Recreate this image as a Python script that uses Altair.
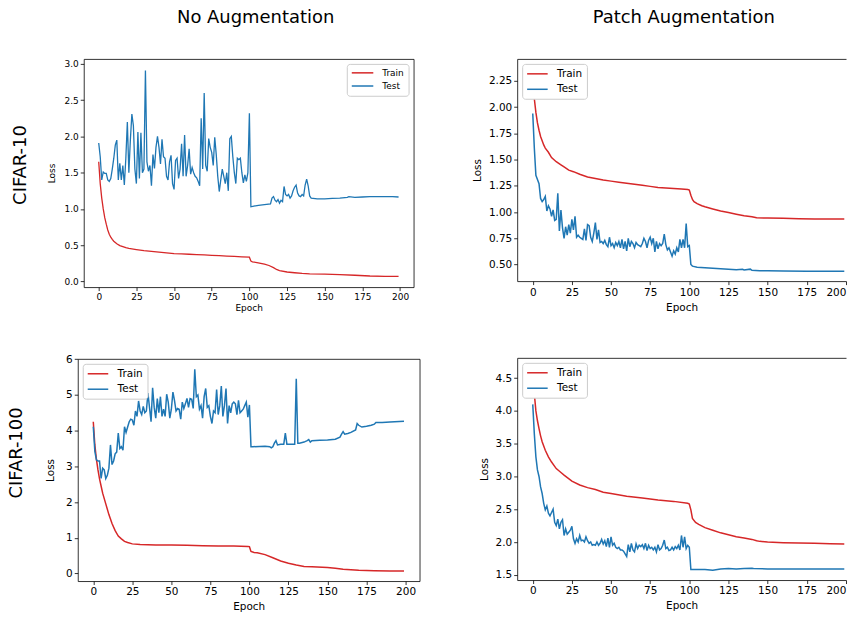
import altair as alt
import pandas as pd

RED = "#d62728"
BLUE = "#1f77b4"
FONT = "DejaVu Sans"

# ---------------- CIFAR-10, no augmentation ----------------
c10_na_train_e = [0, 1, 2, 3, 4, 5, 6, 7, 8, 9, 10, 12, 14, 16, 18, 20, 25, 30, 35, 40, 45, 50, 55, 60, 65, 70, 75, 80, 85, 90, 95, 100,
                  101, 102, 105, 110, 113, 116, 118, 120, 125, 130, 135, 140, 150, 160, 170, 180, 190, 199]
c10_na_train_v = [1.65, 1.35, 1.15, 1.00, 0.88, 0.79, 0.71, 0.65, 0.61, 0.58, 0.555, 0.52, 0.495, 0.48, 0.465, 0.455, 0.44, 0.425, 0.415, 0.405, 0.395, 0.385, 0.38, 0.375, 0.37, 0.365, 0.36, 0.355, 0.35, 0.345, 0.34, 0.335,
                  0.28, 0.27, 0.26, 0.24, 0.22, 0.19, 0.165, 0.15, 0.13, 0.12, 0.11, 0.105, 0.10, 0.095, 0.085, 0.075, 0.07, 0.07]
c10_na_test_e = list(range(0, 102)) + [103, 106, 110, 114] + list(range(115, 142)) + [145, 150, 155, 160, 165, 166, 170, 175, 180, 185, 190, 195, 199]
c10_na_test_v = [1.91, 1.72, 1.40, 1.51, 1.49, 1.49, 1.40, 1.38, 1.42, 1.55, 1.70, 1.88, 1.95, 1.40, 1.63, 1.40, 1.60, 1.33, 1.70, 2.20,
                 1.50, 1.95, 2.31, 2.15, 1.55, 1.35, 2.06, 1.42, 2.05, 1.50, 1.55, 2.91, 1.65, 1.52, 1.60, 1.32, 1.75, 1.56, 1.85, 2.00,
                 1.85, 1.62, 1.96, 1.72, 1.70, 1.45, 1.40, 1.65, 1.74, 1.35, 1.27, 1.67, 1.70, 1.42, 1.55, 1.90, 1.45, 2.02, 1.45, 1.60,
                 1.83, 1.48, 1.57, 1.50, 1.45, 1.43, 1.38, 1.32, 2.25, 1.55, 2.60, 1.60, 1.52, 1.97, 1.85, 1.78, 1.60, 1.99, 1.75, 1.45,
                 1.24, 1.40, 1.55, 1.45, 1.35, 1.50, 1.25, 1.97, 2.00, 1.72, 1.50, 1.35, 1.70, 1.68, 1.70, 1.50, 1.36, 1.47, 1.38, 1.50,
                 2.32, 1.03, 1.04, 1.05, 1.06, 1.07,
                 1.15, 1.17, 1.12, 1.10, 1.13, 1.08, 1.12, 1.10, 1.31, 1.20, 1.18, 1.20, 1.15, 1.18, 1.25, 1.30, 1.33, 1.22, 1.18, 1.17,
                 1.20, 1.18, 1.33, 1.41, 1.32, 1.18, 1.15,
                 1.14, 1.14, 1.145, 1.15, 1.16, 1.17, 1.16, 1.165, 1.17, 1.17, 1.17, 1.17, 1.165]

# ---------------- CIFAR-10, patch augmentation ----------------
c10_pa_train_e = [0, 1, 2, 3, 4, 5, 6, 7, 8, 10, 12, 15, 18, 20, 23, 26, 30, 35, 40, 45, 50, 55, 60, 65, 70, 75, 80, 85, 90, 95, 99, 100,
                  101, 102, 103, 105, 108, 110, 115, 120, 125, 130, 135, 140, 143, 150, 160, 170, 180, 190, 199]
c10_pa_train_v = [2.37, 2.08, 1.95, 1.85, 1.78, 1.72, 1.68, 1.64, 1.61, 1.57, 1.52, 1.48, 1.45, 1.43, 1.40, 1.385, 1.36, 1.335, 1.32, 1.305, 1.295, 1.285, 1.275, 1.265, 1.255, 1.245, 1.235, 1.23, 1.225, 1.22, 1.215, 1.21,
                  1.16, 1.12, 1.10, 1.08, 1.06, 1.05, 1.03, 1.01, 0.995, 0.98, 0.965, 0.955, 0.945, 0.943, 0.94, 0.937, 0.935, 0.935, 0.935]
c10_pa_test_e = list(range(0, 102)) + [102, 105, 110, 115, 120, 125, 130, 134, 135, 139, 140, 145, 150, 160, 175, 199]
c10_pa_test_v = [1.94, 1.61, 1.35, 1.31, 1.27, 1.13, 1.10, 1.12, 1.15, 1.01, 1.06, 1.03, 0.96, 1.02, 0.92, 0.93, 1.18, 0.82, 1.02, 0.85,
                 0.75, 0.86, 0.78, 0.88, 0.80, 0.93, 0.83, 0.96, 0.76, 0.78, 0.76, 0.75, 0.74, 0.84, 0.73, 0.88, 0.87, 0.76, 0.72, 0.80,
                 0.90, 0.74, 0.83, 0.71, 0.72, 0.70, 0.73, 0.69, 0.67, 0.76, 0.68, 0.70, 0.66, 0.71, 0.68, 0.72, 0.66, 0.74, 0.65, 0.72,
                 0.63, 0.75, 0.67, 0.72, 0.70, 0.66, 0.71, 0.69, 0.68, 0.67, 0.70, 0.75, 0.72, 0.66, 0.73, 0.76, 0.70, 0.75, 0.62, 0.72,
                 0.65, 0.70, 0.68, 0.70, 0.79, 0.69, 0.64, 0.66, 0.62, 0.58, 0.63, 0.60, 0.66, 0.62, 0.74, 0.66, 0.74, 0.66, 0.89, 0.67,
                 0.68, 0.50,
                 0.485, 0.475, 0.47, 0.465, 0.46, 0.455, 0.45, 0.455, 0.448, 0.456, 0.445, 0.44, 0.44, 0.438, 0.435, 0.435]

# ---------------- CIFAR-100, no augmentation ----------------
c100_na_train_e = [0, 1, 2, 3, 4, 5, 6, 8, 10, 12, 14, 16, 18, 20, 22, 25, 30, 40, 50, 60, 70, 80, 90, 99, 100,
                   101, 103, 105, 110, 115, 120, 125, 130, 135, 140, 150, 155, 160, 170, 180, 190, 199]
c100_na_train_v = [4.25, 3.60, 3.20, 2.90, 2.65, 2.45, 2.25, 1.95, 1.65, 1.40, 1.20, 1.05, 0.97, 0.90, 0.87, 0.83, 0.81, 0.80, 0.80, 0.79, 0.78, 0.77, 0.77, 0.76, 0.75,
                   0.62, 0.59, 0.58, 0.53, 0.44, 0.35, 0.29, 0.24, 0.20, 0.19, 0.17, 0.15, 0.12, 0.09, 0.08, 0.07, 0.07]
c100_na_test_e = list(range(0, 103)) + [110, 113, 114, 115, 116, 117, 118, 120, 122, 123, 124, 126, 129, 130, 131, 132, 135, 137, 138, 139, 140,
                                        145, 150, 155, 158, 159, 160, 161, 163, 165, 168, 169, 170, 172, 175, 178, 180, 181, 185, 190, 199]
c100_na_test_v = [4.11, 3.42, 3.18, 3.15, 3.15, 2.66, 2.95, 2.90, 2.66, 2.75, 2.95, 3.60, 3.05, 3.15, 3.35, 3.40, 3.93, 3.50, 3.55, 3.45,
                  4.11, 3.95, 4.10, 4.25, 4.32, 4.30, 4.15, 4.55, 4.40, 4.83, 4.55, 4.45, 4.68, 4.50, 4.55, 5.05, 4.65, 4.25, 5.20, 4.65,
                  4.35, 4.90, 4.50, 4.95, 4.40, 4.60, 4.40, 5.02, 4.80, 4.35, 4.60, 5.08, 4.85, 4.55, 4.62, 4.60, 4.32, 4.80, 4.62, 4.75,
                  4.90, 4.65, 4.90, 4.88, 4.62, 5.72, 4.95, 5.00, 4.60, 4.70, 4.35, 4.95, 5.18, 4.65, 4.70, 4.40, 4.20, 4.55, 4.50, 5.15,
                  4.45, 4.70, 5.25, 4.40, 4.70, 5.18, 4.20, 4.70, 4.50, 4.75, 4.80, 4.75, 4.45, 4.85, 4.50, 4.55, 4.60, 4.70, 4.80, 4.38,
                  4.72, 3.55, 3.55,
                  3.56, 3.55, 3.52, 3.55, 3.65, 3.72, 3.60, 3.62, 3.62, 3.93, 3.62, 3.62, 3.62, 5.45, 3.65, 3.65, 3.68, 3.72, 3.75, 3.68, 3.72,
                  3.73, 3.74, 3.76, 3.82, 3.90, 3.97, 3.90, 3.92, 3.95, 4.02, 4.20, 4.15, 4.10, 4.12, 4.15, 4.18, 4.23, 4.23, 4.24, 4.26]

# ---------------- CIFAR-100, patch augmentation ----------------
c100_pa_train_e = [0, 1, 2, 3, 4, 5, 6, 8, 10, 12, 15, 18, 20, 25, 30, 35, 40, 45, 50, 60, 70, 80, 90, 99, 100,
                   101, 102, 104, 106, 110, 115, 120, 125, 130, 135, 140, 143, 145, 150, 160, 170, 180, 190, 199]
c100_pa_train_v = [4.66, 4.26, 4.00, 3.85, 3.73, 3.62, 3.53, 3.40, 3.30, 3.22, 3.12, 3.06, 3.02, 2.93, 2.87, 2.83, 2.80, 2.76, 2.74, 2.70, 2.67, 2.64, 2.62, 2.59, 2.58,
                   2.49, 2.36, 2.30, 2.27, 2.22, 2.18, 2.14, 2.11, 2.08, 2.06, 2.04, 2.02, 2.01, 2.00, 1.99, 1.985, 1.98, 1.975, 1.97]
c100_pa_test_e = list(range(0, 103)) + [105, 110, 115, 120, 125, 130, 135, 140, 141, 150, 160, 175, 199]
c100_pa_test_v = [4.10, 3.65, 3.30, 3.10, 3.00, 2.84, 2.74, 2.59, 2.49, 2.55, 2.44, 2.40, 2.45, 2.50, 2.30, 2.25, 2.35, 2.20, 2.30, 2.34,
                  2.10, 2.20, 2.12, 2.15, 2.18, 2.24, 2.05, 1.98, 2.05, 2.00, 2.10, 2.02, 2.03, 2.00, 2.08, 2.02, 1.98, 2.00, 1.95, 1.96,
                  1.95, 2.00, 1.95, 1.98, 2.04, 1.97, 2.02, 1.93, 2.06, 1.92, 2.08, 1.95, 1.98, 1.92, 1.90, 1.92, 1.88, 1.88, 1.86, 1.82,
                  1.78, 1.96, 1.85, 1.98, 1.88, 1.85, 1.97, 1.90, 1.95, 1.93, 1.96, 1.90, 1.98, 1.87, 1.95, 1.90, 1.92, 1.88, 1.92, 1.85,
                  1.96, 1.88, 1.90, 1.95, 2.03, 1.90, 1.92, 1.87, 1.88, 1.92, 1.88, 1.93, 1.90, 1.95, 1.88, 2.10, 1.92, 2.08, 1.90, 1.95,
                  1.92, 1.58, 1.58,
                  1.58, 1.58, 1.57, 1.59, 1.595, 1.59, 1.595, 1.60, 1.595, 1.59, 1.59, 1.59, 1.59]

X_TICKS = [0, 25, 50, 75, 100, 125, 150, 175, 200]


def frame_axis(orient):
    return alt.Axis(orient=orient, labels=False, ticks=False, title=None, grid=False,
                    domain=True, domainColor="black", domainWidth=0.8)


def panel(tr_e, tr_v, te_e, te_v, xdom, ydom, yticks, yfmt, w, h, fs, lorient, loss_x, epoch_y,
          right_frame=True, flush=False, sw=1.5, lab_pad=2.5, sym=100, sym_path="M-1,0H3.12",
          lab_off=19, row_pad=3.5):
    df = pd.concat([
        pd.DataFrame({"Epoch": tr_e, "Loss": tr_v, "Series": "Train", "o": 0}),
        pd.DataFrame({"Epoch": te_e, "Loss": te_v, "Series": "Test", "o": 1}),
    ])
    xaxis = dict(values=X_TICKS, format="d", title="Epoch", grid=False,
                 domain=True, domainColor="black", domainWidth=0.8,
                 tickColor="black", tickWidth=0.8, tickSize=3.5, labelPadding=lab_pad,
                 labelFont=FONT, labelFontSize=fs, labelColor="black",
                 titleFont=FONT, titleFontSize=fs, titleFontWeight="normal", titleColor="black",
                 titleY=epoch_y, titleBaseline="middle")
    if flush:
        xaxis["labelFlush"] = 2
    main = alt.Chart(df).mark_line(strokeWidth=sw).encode(
        x=alt.X("Epoch:Q", scale=alt.Scale(domain=xdom, nice=False, zero=False), axis=alt.Axis(**xaxis)),
        y=alt.Y("Loss:Q",
                scale=alt.Scale(domain=ydom, nice=False, zero=False),
                axis=alt.Axis(values=yticks, format=yfmt, title="Loss", grid=False,
                              domain=True, domainColor="black", domainWidth=0.8,
                              tickColor="black", tickWidth=0.8, tickSize=3.5, labelPadding=2,
                              labelFont=FONT, labelFontSize=fs, labelColor="black",
                              titleFont=FONT, titleFontSize=fs, titleFontWeight="normal", titleColor="black",
                              titleX=loss_x, titleBaseline="middle")),
        color=alt.Color("Series:N",
                        scale=alt.Scale(domain=["Train", "Test"], range=[RED, BLUE]),
                        legend=alt.Legend(title=None, orient=lorient, offset=5, padding=4,
                                          strokeColor="#cccccc", fillColor="white", cornerRadius=3,
                                          symbolType=sym_path, symbolStrokeWidth=1.5, symbolSize=sym,
                                          labelFont=FONT, labelFontSize=fs, labelColor="black",
                                          rowPadding=row_pad, labelOffset=lab_off)),
        order="o:Q",
    )
    frame = alt.Chart(df).mark_line(opacity=0).encode(
        x=alt.X("Epoch:Q", axis=frame_axis("top")),
        y=alt.Y("Loss:Q", axis=frame_axis("right") if right_frame else None),
    )
    return alt.layer(main, frame).resolve_axis(x="independent", y="independent").properties(width=w, height=h)


p11 = panel(c10_na_train_e, c10_na_train_v, c10_na_test_e, c10_na_test_v, [-9.95, 208.95],
            [-0.078, 3.07], [0, 0.5, 1.0, 1.5, 2.0, 2.5, 3.0], ".1f", 331, 229, 9,
            "top-right", -32, 21, sw=1.3, lab_pad=1.5, sym=64, sym_path="M-1,0H4.4", lab_off=21.6,
            row_pad=3.2).properties(
    title=alt.TitleParams("CIFAR-10", orient="left", anchor="middle", frame="group",
                          font=FONT, fontSize=18, fontWeight="normal", color="black", offset=18, dx=8))
p21 = panel(c100_na_train_e, c100_na_train_v, c100_na_test_e, c100_na_test_v, [-9.95, 208.95],
            [-0.21, 6.01], [0, 1, 2, 3, 4, 5, 6], "d", 343, 223, 10.5,
            "top-left", -27, 26).properties(
    title=alt.TitleParams("CIFAR-100", orient="left", anchor="middle", frame="group",
                          font=FONT, fontSize=18, fontWeight="normal", color="black", offset=20, dx=17))
p12 = panel(c10_pa_train_e, c10_pa_train_v, c10_pa_test_e, c10_pa_test_v, [-9.95, 200.1],
            [0.342, 2.46], [0.5, 0.75, 1.0, 1.25, 1.5, 1.75, 2.0, 2.25], ".2f", 330, 223, 10.5,
            "top-left", -40, 26, right_frame=False, flush=True)
p22 = panel(c100_pa_train_e, c100_pa_train_v, c100_pa_test_e, c100_pa_test_v, [-9.95, 200.1],
            [1.42, 4.81], [1.5, 2.0, 2.5, 3.0, 3.5, 4.0, 4.5], ".1f", 330, 223, 10.5,
            "top-left", -33, 26, right_frame=False, flush=True)

left_col = alt.vconcat(p11, p21, spacing=72, center=True, bounds="flush").resolve_scale(
    color="independent").properties(
    title=alt.TitleParams("No Augmentation", anchor="middle", frame="bounds", baseline="alphabetic",
                          font=FONT, fontSize=18, fontWeight="normal", color="black", offset=18, dx=42))
right_col = alt.vconcat(p12, p22, spacing=77, bounds="flush").resolve_scale(
    color="independent").properties(
    title=alt.TitleParams("Patch Augmentation", anchor="middle", frame="bounds", baseline="alphabetic",
                          font=FONT, fontSize=18, fontWeight="normal", color="black", offset=18, dx=24))

chart = alt.hconcat(left_col, right_col, spacing=53).resolve_scale(
    color="independent").properties(
    padding={"left": 0, "top": 0, "right": 0, "bottom": 0}
).configure(background="white").configure_view(stroke="transparent", strokeWidth=0)

chart.save("out.html", embed_options={"renderer": "svg", "actions": False})
